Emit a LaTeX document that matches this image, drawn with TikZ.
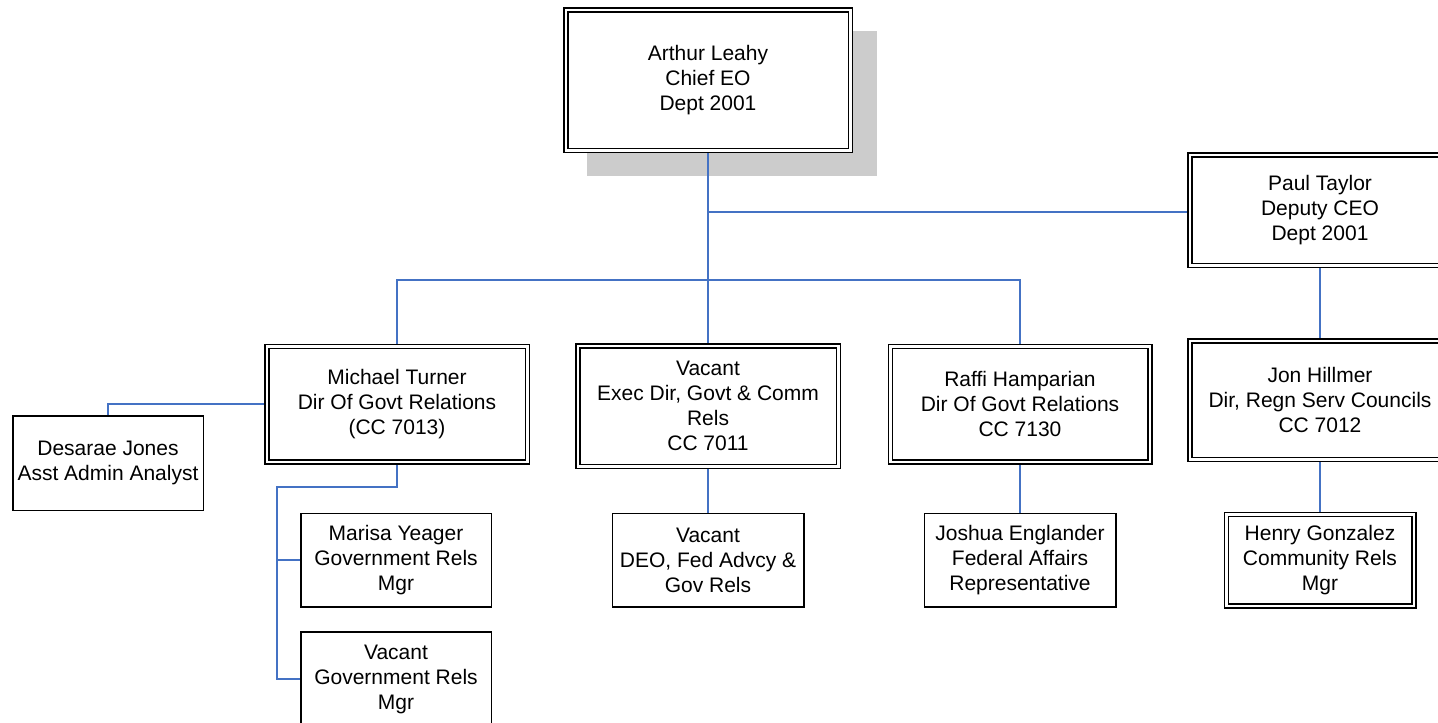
\documentclass[tikz,border=0pt]{standalone}
\usepackage{fontspec}
\setmainfont{Liberation Sans}
\pgfdeclarelayer{bg}
\pgfsetlayers{bg,main}
\definecolor{conn}{RGB}{68,114,196}
\definecolor{shadowgray}{RGB}{204,204,204}
\begin{document}
\begin{tikzpicture}[x=1pt,y=-1pt,
  every node/.style={font=\fontsize{21}{25}\selectfont, align=center, inner sep=0pt, outer sep=0pt},
  dbox/.style={draw=black, line width=1.5pt, double=white, double distance=2.5pt, fill=white},
  sbox/.style={draw=black, line width=1.5pt, fill=white},
  link/.style={draw=conn, line width=1.8pt},
]
\useasboundingbox (0,0) rectangle (1438,723);

% top level
\node[dbox, minimum width=284.5pt, minimum height=140.5pt] (arthur) at (708,80) {Arthur Leahy\\Chief EO\\Dept 2001};
\node[dbox, minimum width=260.5pt, minimum height=110.5pt] (paul) at (1320,210) {Paul Taylor\\Deputy CEO\\Dept 2001};

% second level
\node[dbox, minimum width=260.5pt, minimum height=115.5pt] (michael) at (397,404) {Michael Turner\\Dir Of Govt Relations\\(CC 7013)};
\node[dbox, minimum width=260.5pt, minimum height=120.5pt] (vacant) at (708,406) {Vacant\\Exec Dir, Govt \& Comm\\Rels\\CC 7011};
\node[dbox, minimum width=259.5pt, minimum height=115.5pt] (raffi) at (1020,404) {Raffi Hamparian\\Dir Of Govt Relations\\CC 7130};
\node[dbox, minimum width=260.5pt, minimum height=118.5pt] (jon) at (1320,400) {Jon Hillmer\\Dir, Regn Serv Councils\\CC 7012};

% third level
\node[sbox, minimum width=190.5pt, minimum height=94.5pt] (desarae) at (108,463) {Desarae Jones\\Asst Admin Analyst};
\node[sbox, minimum width=190.5pt, minimum height=93.5pt] (marisa) at (396,560) {Marisa Yeager\\Government Rels\\Mgr};
\node[sbox, minimum width=190.5pt, minimum height=94.5pt] (vacantgr) at (396,679) {Vacant\\Government Rels\\Mgr};
\node[sbox, minimum width=191.5pt, minimum height=93.5pt] (deo) at (708,560) {Vacant\\DEO, Fed Advcy \&\\Gov Rels};
\node[sbox, minimum width=191.5pt, minimum height=93.5pt] (joshua) at (1020,560) {Joshua Englander\\Federal Affairs\\Representative};
\node[dbox, minimum width=187.5pt, minimum height=91.5pt] (henry) at (1320,560) {Henry Gonzalez\\Community Rels\\Mgr};

\coordinate (bar) at (0,280);
\coordinate (mtjog) at (0,487);
\coordinate (mtrail) at (277,0);
\coordinate (ptlink) at (0,212);

\begin{pgfonlayer}{bg}
  \fill[shadowgray] (587,31) rectangle (877,176);
  \draw[link] (arthur.south) -- (vacant.north);
  \draw[link] (arthur.south |- ptlink) -- (paul.west |- ptlink);
  \draw[link] (michael.north) -- (michael.north |- bar) -- (raffi.north |- bar) -- (raffi.north);
  \draw[link] (michael.west) -| (desarae.north);
  \draw[link] (michael.south) -- (michael.south |- mtjog) -- (mtrail |- mtjog) -- (mtrail |- vacantgr.west) -- (vacantgr.west);
  \draw[link] (mtrail |- marisa.west) -- (marisa.west);
  \draw[link] (vacant.south) -- (deo.north);
  \draw[link] (raffi.south) -- (joshua.north);
  \draw[link] (paul.south) -- (jon.north);
  \draw[link] (jon.south) -- (henry.north);
\end{pgfonlayer}
\end{tikzpicture}
\end{document}
